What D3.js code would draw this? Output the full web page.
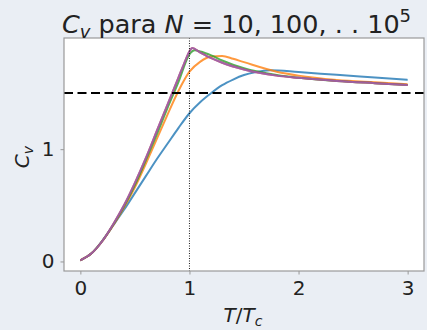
<!DOCTYPE html>
<html><head><meta charset="utf-8">
<script src="https://cdn.jsdelivr.net/npm/d3@7"></script>
<style>
html,body{margin:0;padding:0;background:#eaeef4;}
svg{display:block;font-family:"DejaVu Sans",sans-serif;}
</style></head><body>
<svg id="c" width="427" height="330"></svg>
<script>
// Data: T/Tc and Cv for each N
const seriesNames = ["N=10","N=100","N=1000","N=10^4","N=10^5"];
const colors = ["#1f77b4","#ff7f0e","#2ca02c","#d62728","#9467bd"];
const tN10 = [0,0.1,0.22,0.3,0.4,0.52,0.6,0.7,0.8,0.9,1.0,1.1,1.2,1.3,1.4,1.5,1.6,1.74,2.0,2.35,2.7,3.0];
const cvN10 = [0.01,0.07,0.21,0.32,0.46,0.64,0.76,0.91,1.05,1.19,1.32,1.42,1.5,1.57,1.62,1.66,1.685,1.703,1.687,1.662,1.638,1.617];
const tN100 = [0,0.1,0.2,0.3,0.4,0.5,0.6,0.7,0.8,0.9,1.0,1.1,1.2,1.3,1.4,1.5,1.8,2.0,2.35,2.7,3.0];
const cvN100 = [0.01,0.07,0.18,0.32,0.48,0.66,0.87,1.09,1.31,1.52,1.69,1.78,1.825,1.83,1.805,1.775,1.69,1.655,1.617,1.595,1.578];
const tN1000 = [0,0.1,0.2,0.3,0.4,0.5,0.6,0.7,0.8,0.9,1.0,1.05,1.1,1.2,1.3,1.5,1.8,2.0,2.35,2.7,3.0];
const cvN1000 = [0.01,0.07,0.18,0.325,0.49,0.68,0.9,1.13,1.37,1.6,1.845,1.88,1.87,1.835,1.79,1.72,1.66,1.635,1.608,1.588,1.572];
const tN1e4 = [0,0.1,0.2,0.3,0.4,0.5,0.6,0.7,0.8,0.9,0.95,1.0,1.025,1.1,1.2,1.3,1.5,1.8,2.0,2.35,2.7,3.0];
const cvN1e4 = [0.01,0.07,0.18,0.33,0.5,0.7,0.92,1.16,1.4,1.64,1.76,1.87,1.9,1.86,1.81,1.77,1.71,1.655,1.635,1.608,1.588,1.572];
const tN1e5 = [0,0.1,0.2,0.3,0.4,0.5,0.6,0.7,0.8,0.9,0.95,1.0,1.025,1.1,1.2,1.3,1.5,1.8,2.0,2.35,2.7,3.0];
const cvN1e5 = [0.01,0.07,0.18,0.33,0.5,0.7,0.92,1.16,1.4,1.64,1.76,1.87,1.9,1.86,1.81,1.77,1.71,1.655,1.635,1.608,1.588,1.572];
const xTicks = [0,1,2,3];
const yTicks = [0,1];
const hLine = 1.5;
const vLine = 1;

const tArr = [tN10,tN100,tN1000,tN1e4,tN1e5];
const cvArr = [cvN10,cvN100,cvN1000,cvN1e4,cvN1e5];

const svg = d3.select("#c");
const L=64, R=424, T=38, B=271;
const x = d3.scaleLinear().domain([-0.15,3.15]).range([L,R]);
const y = d3.scaleLinear().domain([-0.085,1.99]).range([B,T]);

svg.append("rect").attr("x",L).attr("y",T).attr("width",R-L).attr("height",B-T).attr("fill","#fff");

const clip = svg.append("clipPath").attr("id","cl").append("rect").attr("x",L).attr("y",T).attr("width",R-L).attr("height",B-T);
const g = svg.append("g").attr("clip-path","url(#cl)");

const line = d3.line().x(d=>x(d[0])).y(d=>y(d[1])).curve(d3.curveMonotoneX);
tArr.forEach((ts,i)=>{
  const pts = ts.map((t,j)=>[t,cvArr[i][j]]);
  g.append("path").datum(pts).attr("d",line).attr("fill","none")
   .attr("stroke",colors[i]).attr("stroke-width",2).attr("stroke-opacity",0.8)
   .attr("stroke-linejoin","round");
});

g.append("line").attr("x1",L).attr("x2",R).attr("y1",y(hLine)).attr("y2",y(hLine))
 .attr("stroke","#000").attr("stroke-width",2).attr("stroke-dasharray","9,4.5");
g.append("line").attr("x1",x(vLine)).attr("x2",x(vLine)).attr("y1",T).attr("y2",B)
 .attr("stroke","#000").attr("stroke-width",0.9).attr("stroke-dasharray","1,1.5");

// spines
svg.append("rect").attr("x",L).attr("y",T).attr("width",R-L).attr("height",B-T)
 .attr("fill","none").attr("stroke","#999").attr("stroke-width",1.2);

// axes
const xa = svg.append("g").attr("transform",`translate(0,${B})`)
  .call(d3.axisBottom(x).tickValues(xTicks).tickSize(3.5).tickPadding(6).tickFormat(d3.format("d")));
const ya = svg.append("g").attr("transform",`translate(${L},0)`)
  .call(d3.axisLeft(y).tickValues(yTicks).tickSize(3.5).tickPadding(6).tickFormat(d3.format("d")));
[xa,ya].forEach(a=>{
  a.select(".domain").remove();
  a.selectAll(".tick line").attr("stroke","#999");
  a.selectAll(".tick text").attr("font-size",20).attr("fill","#222").attr("font-family","DejaVu Sans");
});

// title
const ti = svg.append("text").attr("x",236.5).attr("y",33).attr("text-anchor","middle")
  .attr("font-size",25.5).attr("fill","#222");
ti.append("tspan").attr("font-style","italic").text("C");
ti.append("tspan").attr("font-style","italic").attr("font-size",18).attr("dy",5).text("v");
ti.append("tspan").attr("dy",-5).text(" para ");
ti.append("tspan").attr("font-style","italic").text("N");
ti.append("tspan").text(" = 10, 100, . . 10");
ti.append("tspan").attr("font-size",18).attr("dy",-11).text("5");

// axis labels
const xl = svg.append("text").attr("x",243).attr("y",322).attr("text-anchor","middle").attr("font-size",20).attr("fill","#222");
xl.append("tspan").attr("font-style","italic").text("T");
xl.append("tspan").text("/");
xl.append("tspan").attr("font-style","italic").text("T");
xl.append("tspan").attr("font-style","italic").attr("font-size",14).attr("dy",4).text("c");

const yl = svg.append("text").attr("transform","translate(29,157) rotate(-90)").attr("text-anchor","middle").attr("font-size",20).attr("fill","#222");
yl.append("tspan").attr("font-style","italic").text("C");
yl.append("tspan").attr("font-style","italic").attr("font-size",14).attr("dy",4).text("v");
</script>
</body></html>
